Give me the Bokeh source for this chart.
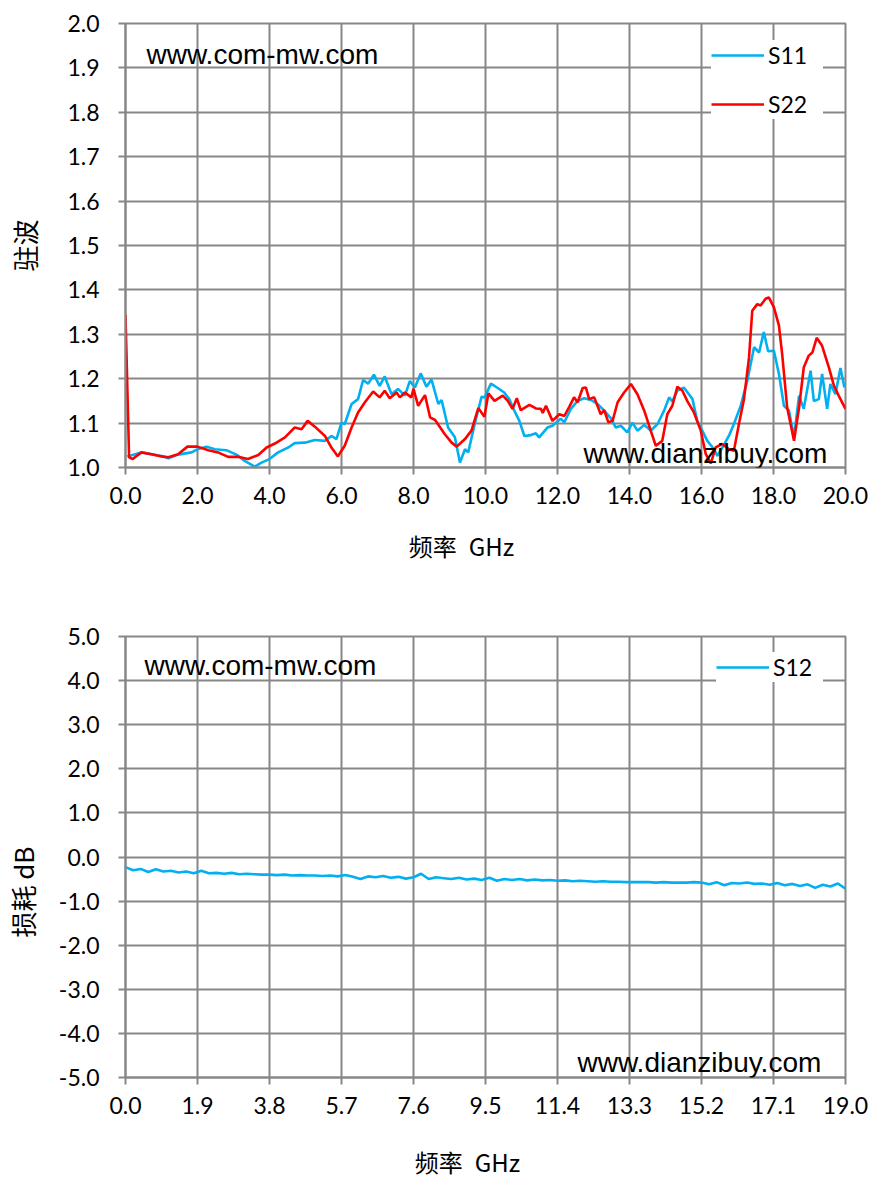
from bokeh.plotting import figure
from bokeh.models import Range1d, FixedTicker, PrintfTickFormatter, Label, Legend, LegendItem
from bokeh.layouts import column
from bokeh.embed import file_html
from bokeh.resources import INLINE

# ---------------- data: top chart (VSWR) ----------------
s11_freq = [0.05, 0.44, 1.0, 1.19, 1.46, 1.83, 2.0, 2.25, 2.48, 2.8, 3.08, 3.31, 3.59, 3.78, 4.0,
            4.24, 4.52, 4.7, 4.98, 5.26, 5.54, 5.72, 5.86, 6.0, 6.09, 6.28, 6.46, 6.6, 6.74, 6.9,
            7.06, 7.2, 7.39, 7.57, 7.76, 7.9, 8.04, 8.2, 8.36, 8.5, 8.69, 8.78, 8.96, 9.15, 9.29,
            9.43, 9.52, 9.7, 9.89, 9.98, 10.15, 10.34, 10.52, 10.66, 10.8, 10.94, 11.08, 11.26,
            11.4, 11.49, 11.72, 11.86, 12.09, 12.19, 12.37, 12.56, 12.74, 12.93, 13.11, 13.25,
            13.48, 13.62, 13.76, 13.94, 14.08, 14.22, 14.41, 14.59, 14.78, 14.96, 15.1, 15.19,
            15.33, 15.51, 15.65, 15.75, 15.88, 16.02, 16.16, 16.35, 16.44, 16.58, 16.76, 16.9,
            17.09, 17.27, 17.46, 17.6, 17.73, 17.85, 18.01, 18.15, 18.29, 18.43, 18.57, 18.71,
            18.84, 19.03, 19.12, 19.26, 19.35, 19.49, 19.58, 19.72, 19.86, 19.97]
s11_vswr = [1.025, 1.034, 1.026, 1.021, 1.029, 1.034, 1.041, 1.047, 1.041, 1.039, 1.029, 1.015,
            1.002, 1.011, 1.019, 1.034, 1.045, 1.055, 1.056, 1.062, 1.060, 1.071, 1.064, 1.101,
            1.098, 1.143, 1.154, 1.197, 1.189, 1.209, 1.184, 1.205, 1.165, 1.177, 1.162, 1.195,
            1.180, 1.212, 1.182, 1.198, 1.143, 1.152, 1.090, 1.068, 1.011, 1.041, 1.034, 1.098,
            1.159, 1.158, 1.189, 1.179, 1.169, 1.154, 1.128, 1.105, 1.071, 1.073, 1.077, 1.068,
            1.090, 1.094, 1.110, 1.102, 1.132, 1.150, 1.156, 1.152, 1.143, 1.132, 1.111, 1.090,
            1.094, 1.079, 1.101, 1.083, 1.096, 1.083, 1.098, 1.128, 1.158, 1.149, 1.173, 1.180,
            1.165, 1.154, 1.105, 1.083, 1.060, 1.041, 1.026, 1.045, 1.071, 1.098, 1.139, 1.195,
            1.271, 1.259, 1.305, 1.262, 1.263, 1.211, 1.139, 1.128, 1.068, 1.162, 1.132, 1.218,
            1.150, 1.154, 1.211, 1.132, 1.188, 1.165, 1.224, 1.180]

s22_freq = [0.0, 0.1, 0.2, 0.44, 0.72, 1.0, 1.19, 1.46, 1.72, 2.0, 2.3, 2.57, 2.85, 3.13, 3.4,
            3.69, 3.92, 4.15, 4.43, 4.7, 4.89, 5.06, 5.26, 5.54, 5.72, 5.9, 6.09, 6.28, 6.46,
            6.65, 6.88, 7.06, 7.2, 7.34, 7.53, 7.62, 7.76, 7.94, 8.0, 8.13, 8.32, 8.46, 8.6,
            8.87, 9.06, 9.2, 9.43, 9.61, 9.8, 9.97, 10.08, 10.25, 10.48, 10.62, 10.75, 10.87,
            10.98, 11.22, 11.4, 11.54, 11.59, 11.68, 11.86, 12.05, 12.19, 12.33, 12.46, 12.56,
            12.7, 12.79, 12.88, 13.02, 13.2, 13.3, 13.41, 13.53, 13.67, 13.85, 14.04, 14.22,
            14.41, 14.59, 14.73, 14.91, 15.05, 15.19, 15.33, 15.47, 15.61, 15.79, 15.98, 16.12,
            16.26, 16.39, 16.58, 16.76, 16.9, 17.04, 17.18, 17.32, 17.41, 17.55, 17.64, 17.78,
            17.87, 18.01, 18.15, 18.24, 18.38, 18.57, 18.71, 18.84, 18.98, 19.08, 19.2, 19.35,
            19.54, 19.68, 19.81, 20.0]
s22_vswr = [1.344, 1.023, 1.019, 1.034, 1.030, 1.025, 1.023, 1.030, 1.047, 1.047, 1.039, 1.034,
            1.024, 1.024, 1.019, 1.028, 1.045, 1.054, 1.068, 1.090, 1.086, 1.105, 1.092, 1.071,
            1.045, 1.025, 1.049, 1.090, 1.124, 1.147, 1.171, 1.158, 1.173, 1.156, 1.169, 1.158,
            1.169, 1.158, 1.177, 1.139, 1.163, 1.113, 1.107, 1.075, 1.056, 1.047, 1.064, 1.083,
            1.134, 1.114, 1.167, 1.150, 1.162, 1.150, 1.132, 1.156, 1.129, 1.141, 1.133, 1.132,
            1.123, 1.139, 1.105, 1.120, 1.116, 1.137, 1.158, 1.147, 1.179, 1.180, 1.154, 1.158,
            1.120, 1.129, 1.102, 1.105, 1.147, 1.169, 1.188, 1.165, 1.128, 1.083, 1.049, 1.060,
            1.120, 1.139, 1.182, 1.173, 1.149, 1.124, 1.083, 1.030, 1.009, 1.045, 1.053, 1.041,
            1.038, 1.098, 1.154, 1.248, 1.353, 1.368, 1.365, 1.380, 1.383, 1.361, 1.320, 1.256,
            1.135, 1.060, 1.135, 1.225, 1.252, 1.259, 1.292, 1.274, 1.225, 1.184, 1.162, 1.132]

top_xticks = [0, 2, 4, 6, 8, 10, 12, 14, 16, 18, 20]
top_yticks = [1.0, 1.1, 1.2, 1.3, 1.4, 1.5, 1.6, 1.7, 1.8, 1.9, 2.0]

# ---------------- data: bottom chart (insertion loss) ----------------
s12_freq = [0.0, 0.2, 0.4, 0.6, 0.8, 1.0, 1.2, 1.4, 1.6, 1.8, 2.0, 2.2, 2.4, 2.6, 2.8, 3.0,
            3.2, 3.4, 3.6, 3.8, 4.0, 4.2, 4.4, 4.6, 4.8, 5.0, 5.2, 5.4, 5.6, 5.8, 6.0, 6.2,
            6.4, 6.6, 6.8, 7.0, 7.2, 7.4, 7.6, 7.8, 8.0, 8.2, 8.4, 8.6, 8.8, 9.0, 9.2, 9.4,
            9.6, 9.8, 10.0, 10.2, 10.4, 10.6, 10.8, 11.0, 11.2, 11.4, 11.6, 11.8, 12.0, 12.2,
            12.4, 12.6, 12.8, 13.0, 13.2, 13.4, 13.6, 13.8, 14.0, 14.2, 14.4, 14.6, 14.8, 15.0,
            15.2, 15.4, 15.6, 15.8, 16.0, 16.2, 16.4, 16.6, 16.8, 17.0, 17.2, 17.4, 17.6, 17.8,
            18.0, 18.2, 18.4, 18.6, 18.8, 19.0]
s12_loss = [-0.23, -0.30, -0.27, -0.34, -0.28, -0.33, -0.31, -0.35, -0.33, -0.37, -0.31, -0.37,
            -0.36, -0.38, -0.36, -0.39, -0.38, -0.39, -0.40, -0.40, -0.41, -0.40, -0.42, -0.41,
            -0.42, -0.42, -0.43, -0.42, -0.44, -0.41, -0.45, -0.50, -0.44, -0.46, -0.43, -0.47,
            -0.45, -0.49, -0.46, -0.38, -0.50, -0.46, -0.48, -0.50, -0.47, -0.51, -0.49, -0.52,
            -0.47, -0.54, -0.50, -0.52, -0.50, -0.53, -0.51, -0.53, -0.52, -0.54, -0.53, -0.55,
            -0.54, -0.55, -0.56, -0.55, -0.56, -0.56, -0.57, -0.57, -0.57, -0.57, -0.58, -0.57,
            -0.58, -0.58, -0.58, -0.57, -0.58, -0.62, -0.57, -0.64, -0.59, -0.60, -0.58, -0.61,
            -0.60, -0.63, -0.59, -0.64, -0.61, -0.66, -0.62, -0.70, -0.63, -0.67, -0.60, -0.72]

bot_xticks = [0.0, 1.9, 3.8, 5.7, 7.6, 9.5, 11.4, 13.3, 15.2, 17.1, 19.0]
bot_yticks = [-5.0, -4.0, -3.0, -2.0, -1.0, 0.0, 1.0, 2.0, 3.0, 4.0, 5.0]

GRID = "#878787"
BLUE = "#00B0F0"
RED = "#FF0000"
TICK_FONT = "Lato"
WM_FONT = "Liberation Sans"
CJK = "Noto Sans CJK SC"
EM = "\u2003"
EN = "\u2002"
THIN = "\u2009"


def make_fig(height, top, bottom, xr, yr, xticks, yticks):
    p = figure(width=870, height=height, x_range=Range1d(*xr), y_range=Range1d(*yr),
               output_backend="svg", toolbar_location=None,
               min_border_left=124, min_border_right=25,
               min_border_top=top, min_border_bottom=bottom)
    p.outline_line_color = GRID
    p.outline_line_width = 2
    p.xaxis.ticker = FixedTicker(ticks=xticks)
    p.yaxis.ticker = FixedTicker(ticks=yticks)
    for ax in list(p.xaxis) + list(p.yaxis):
        ax.formatter = PrintfTickFormatter(format="%.1f")
        ax.axis_line_color = GRID
        ax.axis_line_width = 2
        ax.major_tick_line_color = GRID
        ax.major_tick_line_width = 2
        ax.major_tick_out = 7
        ax.major_tick_in = 0
        ax.minor_tick_line_color = None
        ax.major_label_text_font = TICK_FONT
        ax.major_label_text_font_size = "23px"
        ax.major_label_text_color = "black"
        ax.axis_label_text_font = CJK
        ax.axis_label_text_font_size = "24px"
        ax.axis_label_text_font_style = "normal"
        ax.axis_label_text_color = "black"
    p.xaxis.major_label_standoff = 12
    p.yaxis.major_label_standoff = 19
    for g in list(p.xgrid) + list(p.ygrid):
        g.grid_line_color = GRID
        g.grid_line_width = 2
        g.grid_line_alpha = 1.0
    return p


def add_label(p, x, y, text, font, size):
    p.add_layout(Label(x=x, y=y, x_units="screen", y_units="screen", text=text,
                       text_font=font, text_font_size=size, text_align="left",
                       text_baseline="alphabetic", text_color="black"))


def style_legend(lg):
    lg.background_fill_color = "white"
    lg.background_fill_alpha = 1.0
    lg.border_line_color = None
    lg.label_text_font = TICK_FONT
    lg.label_text_font_size = "23px"
    lg.label_text_color = "black"
    lg.glyph_width = 53
    lg.glyph_height = 30
    lg.label_height = 30
    lg.label_standoff = 4
    lg.margin = 0
    lg.padding = 9


# ---------------- top chart ----------------
p1 = make_fig(598, 23, 131, (0, 20), (1.0, 2.0), top_xticks, top_yticks)
r11 = p1.line(s11_freq, s11_vswr, line_color=BLUE, line_width=2.6)
r22 = p1.line(s22_freq, s22_vswr, line_color=RED, line_width=2.6)
lg1 = Legend(items=[LegendItem(label="S11", renderers=[r11]),
                    LegendItem(label="S22", renderers=[r22])],
             location=(586, 348))
style_legend(lg1)
lg1.spacing = 19
lg1.label_width = 55
p1.add_layout(lg1)
add_label(p1, 21, 413, "www.com-mw.com", WM_FONT, "28px")
add_label(p1, 458, 14, "www.dianzibuy.com", WM_FONT, "28px")
p1.xaxis.axis_label = "频率" + EN + "GHz" + EM + EM
p1.xaxis.axis_label_standoff = 21
p1.yaxis.axis_label = "驻波"
p1.yaxis.axis_label_text_font_size = "26px"
p1.yaxis.axis_label_standoff = 21

# ---------------- bottom chart ----------------
p2 = make_fig(587, 38, 108, (0, 19), (-5.0, 5.0), bot_xticks, bot_yticks)
r12 = p2.line(s12_freq, s12_loss, line_color=BLUE, line_width=2.6)
lg2 = Legend(items=[LegendItem(label="S12", renderers=[r12])], location=(591, 395))
style_legend(lg2)
lg2.label_width = 50
p2.add_layout(lg2)
add_label(p2, 19, 412, "www.com-mw.com", WM_FONT, "28px")
add_label(p2, 452, 15, "www.dianzibuy.com", WM_FONT, "28px")
p2.xaxis.axis_label = "频率" + EN + "GHz" + EM + EN
p2.xaxis.axis_label_standoff = 27
p2.yaxis.axis_label = "损耗 dB" + EM + EM + EN + THIN
p2.yaxis.axis_label_text_font_size = "26px"
p2.yaxis.axis_label_standoff = 15

layout = column(p1, p2)
open("out.html", "w").write(file_html(layout, INLINE))
